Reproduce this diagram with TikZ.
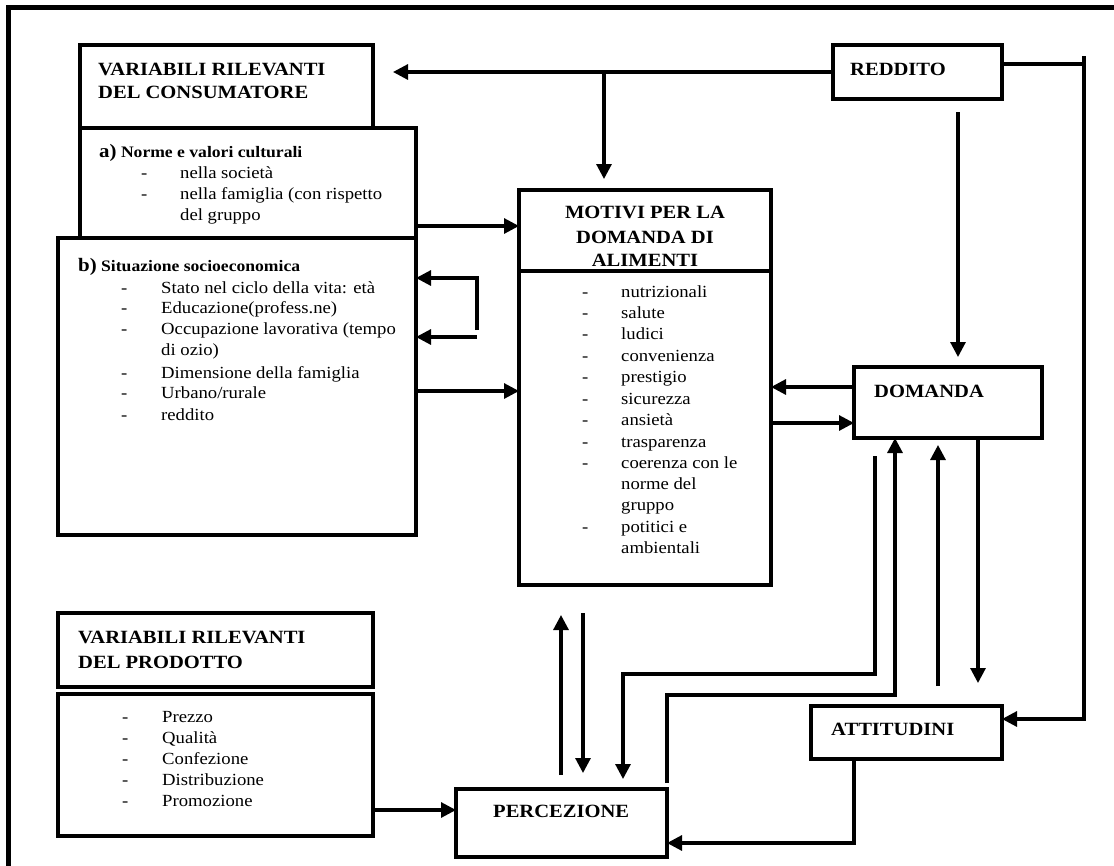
\documentclass[tikz,border=0pt]{standalone}
\usepackage{fontspec}
\setmainfont{Liberation Serif}[FakeStretch=1.1]
\usetikzlibrary{arrows.meta}
\newcommand\dashitem[5]{%
  \node[itm] (#1d) at (#2,#4) {-};
  \node[itm] (#1) at (#3,#4) {#5};}
\begin{document}
\begin{tikzpicture}[x=1pt,y=-1pt,
  box/.style={draw, line width=3.3pt, inner sep=0pt, outer sep=0pt, anchor=north west},
  conn/.style={line width=3.1pt},
  arr/.style={conn, -{Triangle[length=15pt,width=15pt]}},
  hdr/.style={font=\bfseries\fontsize{18.7}{23}\selectfont, anchor=base west, inner sep=0pt},
  hdrc/.style={hdr, anchor=base},
  sub/.style={font=\bfseries\fontsize{16}{20}\selectfont, anchor=base west, inner sep=0pt},
  itm/.style={font=\fontsize{17}{21}\selectfont, anchor=base west, inner sep=0pt},
]
\useasboundingbox (0,0) rectangle (1114,865);
\fill[white] (0,0) rectangle (1114,865);
% outer frame
\draw[line width=5pt] (8,875) -- (8,7) -- (1125,7);

% boxes
\node[box, minimum width=293pt, minimum height=83pt]  (cons)    at (80,45)  {};
\node[box, minimum width=336pt, minimum height=110pt] (boxa)    at (80,128) {};
\node[box, minimum width=358pt, minimum height=297pt] (boxb)    at (58,238) {};
\node[box, minimum width=169pt, minimum height=54pt]  (reddito) at (833,45) {};
\node[box, minimum width=252pt, minimum height=81pt]  (mhead)   at (519,190) {};
\node[box, minimum width=252pt, minimum height=314pt] (mbody)   at (519,271) {};
\node[box, minimum width=188pt, minimum height=71pt]  (domanda) at (854,367) {};
\node[box, minimum width=315pt, minimum height=74pt]  (prod)    at (58,613) {};
\node[box, minimum width=315pt, minimum height=142pt] (plist)   at (58,694) {};
\node[box, minimum width=211pt, minimum height=68pt]  (percez)  at (456,789) {};
\node[box, minimum width=191pt, minimum height=53pt]  (attit)   at (811,706) {};

% consumer variables
\node[hdr] (c1) at (98,75) {VARIABILI RILEVANTI};
\node[hdr] (c2) at (98,98) {DEL CONSUMATORE};
\node[sub] (a0) at (99,157) {{\fontsize{19}{23}\selectfont a)} Norme e valori culturali};
\dashitem{a1}{141}{180}{178}{nella società}
\dashitem{a2}{141}{180}{199}{nella famiglia (con rispetto}
\node[itm] (a3) at (180,220) {del gruppo};
\node[sub] (b0) at (78,271) {{\fontsize{19}{23}\selectfont b)} Situazione socioeconomica};
\dashitem{b1}{121}{161}{293}{Stato nel ciclo della vita: età}
\dashitem{b2}{121}{161}{313}{Educazione(profess.ne)}
\dashitem{b3}{121}{161}{334}{Occupazione lavorativa (tempo}
\node[itm] (b3b) at (161,355) {di ozio)};
\dashitem{b4}{121}{161}{378}{Dimensione della famiglia}
\dashitem{b5}{121}{161}{398}{Urbano/rurale}
\dashitem{b6}{121}{161}{420}{reddito}

% income, demand, attitudes, perception
\node[hdr] (rt) at (850,75) {REDDITO};
\node[hdr] (dt) at (874,397) {DOMANDA};
\node[hdr] (at) at (831,735) {ATTITUDINI};
\node[hdr] (pt) at (493,817) {PERCEZIONE};

% food demand motives
\node[hdrc] (m1) at (645,218) {MOTIVI PER LA};
\node[hdrc] (m2) at (645,243) {DOMANDA DI};
\node[hdrc] (m3) at (645,266) {ALIMENTI};
\dashitem{n1}{582}{621}{297}{nutrizionali}
\dashitem{n2}{582}{621}{318}{salute}
\dashitem{n3}{582}{621}{339}{ludici}
\dashitem{n4}{582}{621}{361}{convenienza}
\dashitem{n5}{582}{621}{382}{prestigio}
\dashitem{n6}{582}{621}{404}{sicurezza}
\dashitem{n7}{582}{621}{425}{ansietà}
\dashitem{n8}{582}{621}{447}{trasparenza}
\dashitem{n9}{582}{621}{468}{coerenza con le}
\node[itm] (n9b) at (621,489) {norme del};
\node[itm] (n9c) at (621,510) {gruppo};
\dashitem{n10}{582}{621}{532}{potitici e}
\node[itm] (n10b) at (621,553) {ambientali};

% product variables
\node[hdr] (p1) at (78,643) {VARIABILI RILEVANTI};
\node[hdr] (p2) at (78,668) {DEL PRODOTTO};
\dashitem{q1}{122}{162}{722}{Prezzo}
\dashitem{q2}{122}{162}{743}{Qualità}
\dashitem{q3}{122}{162}{764}{Confezione}
\dashitem{q4}{122}{162}{785}{Distribuzione}
\dashitem{q5}{122}{162}{806}{Promozione}

% connectors
\draw[arr, shorten >=20pt] (reddito.west) -- (reddito.west -| cons.east);
\coordinate (j1) at (604,72);
\draw[arr, shorten >=11pt] (j1) -- (j1 |- mhead.north);
\draw[conn] (reddito.east |- 0,64) -- (1084,64);
\coordinate (railtop) at (1084,56);
\draw[arr] (railtop) -- (1084,719) -- (attit.east |- 0,719);
\draw[arr, shorten <=13pt, shorten >=10pt] (reddito.south -| 958,0) -- (domanda.north -| 958,0);

\draw[arr] (boxa.east |- 0,226) -- (mhead.west |- 0,226);
\draw[arr] (477,337) -- (boxb.east |- 0,337);
\draw[arr] (477,330) -- (477,278) -- (boxb.east |- 0,278);
\draw[arr] (boxb.east |- 0,391) -- (mbody.west |- 0,391);

\draw[arr] (domanda.west |- 0,387) -- (mbody.east |- 0,387);
\draw[arr] (mbody.east |- 0,423) -- (domanda.west |- 0,423);

\draw[arr, shorten >=10pt, shorten <=18pt] (domanda.south -| 875,0) -- (875,674) -- (623,674) -- (percez.north -| 623,0);
\draw[arr, shorten <=6pt] (percez.north east) -- (667,695) -- (895,695) -- (domanda.south -| 895,0);
\draw[arr, shorten <=20pt, shorten >=7pt] (attit.north -| 938,0) -- (domanda.south -| 938,0);
\draw[arr, shorten >=23pt] (domanda.south -| 978,0) -- (attit.north -| 978,0);

\draw[arr] (attit.south -| 854,0) -- (854,843) -- (percez.east |- 0,843);
\draw[arr] (plist.east |- 0,810) -- (percez.west |- 0,810);
\draw[arr, shorten <=14pt, shorten >=30pt] (percez.north -| 561,0) -- (mbody.south -| 561,0);
\draw[arr, shorten <=28pt, shorten >=16pt] (mbody.south -| 583,0) -- (percez.north -| 583,0);
\end{tikzpicture}
\end{document}
